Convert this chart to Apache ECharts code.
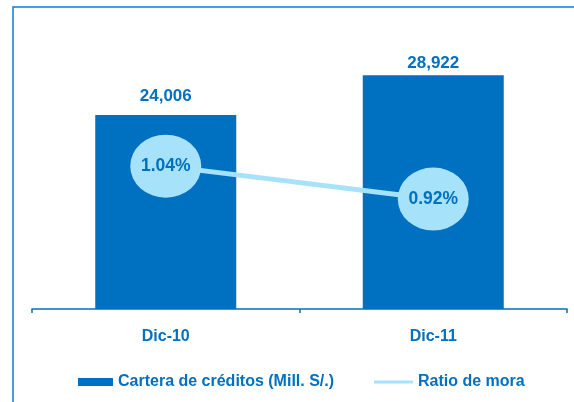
<!DOCTYPE html>
<html><head><meta charset="utf-8">
<script src="https://cdn.jsdelivr.net/npm/echarts@6/dist/echarts.min.js"></script>
<style>html,body{margin:0;padding:0;background:#fff}#c{width:574px;height:402px}</style>
</head><body><div id="c"></div>
<script>
var categories = ['Dic-10', 'Dic-11'];
var cartera = [24006, 28922];
var ratioMora = [1.04, 0.92];
var seriesNames = ['Cartera de créditos (Mill. S/.)', 'Ratio de mora'];

var blue = '#0070C0';
var light = '#A6E3FA';
var font = '"Liberation Sans", Arial, sans-serif';
var barLabelDistance = [10, 3.5];
var chart = echarts.init(document.getElementById('c'));
chart.setOption({
  animation: false,
  backgroundColor: '#fff',
  textStyle: {fontFamily: font},
  graphic: [{type: 'rect', shape: {x: 13, y: 7, width: 700, height: 500},
    style: {fill: 'none', stroke: '#0C7BDC', lineWidth: 1.5}, z: -1, silent: true}],
  grid: {left: 32, right: 7, top: 26, bottom: 93},
  legend: [
    {data: [seriesNames[0]], left: 78, top: 374, padding: 0, icon: 'rect', itemWidth: 35, itemHeight: 8,
     textStyle: {color: blue, fontWeight: 'bold', fontSize: 16, fontFamily: font}},
    {data: [seriesNames[1]], left: 374, top: 374, padding: 0, icon: 'rect', itemWidth: 39, itemHeight: 3,
     textStyle: {color: blue, fontWeight: 'bold', fontSize: 16, fontFamily: font}}
  ],
  xAxis: {type: 'category', data: categories, boundaryGap: true,
    axisLine: {lineStyle: {color: blue, width: 1.5}},
    axisTick: {show: true, length: 4, lineStyle: {color: blue, width: 1.5}},
    axisLabel: {color: blue, fontWeight: 'bold', fontSize: 16, margin: 20, fontFamily: font}},
  yAxis: [
    {type: 'value', min: 0, max: 35000, show: false, splitLine: {show: false}},
    {type: 'value', min: 0.52, max: 1.55, show: false, splitLine: {show: false}}
  ],
  series: [
    {name: seriesNames[0], type: 'bar', barWidth: 141,
     data: cartera.map(function (v, i) { return {value: v, label: {distance: barLabelDistance[i]}}; }),
     itemStyle: {color: blue},
     label: {show: true, position: 'top', color: blue, fontWeight: 'bold', fontSize: 17,
       fontFamily: font,
       formatter: function (p) { return p.value.toLocaleString('en-US'); }}},
    {name: seriesNames[1], type: 'line', yAxisIndex: 1, data: ratioMora, z: 5,
     lineStyle: {color: light, width: 5},
     itemStyle: {color: light},
     symbol: 'circle', symbolSize: [71, 63],
     label: {show: true, position: 'inside', color: blue, fontWeight: 'bold', fontSize: 17.5,
       fontFamily: font,
       formatter: function (p) { return p.value.toFixed(2) + '%'; }}}
  ]
});
</script></body></html>
